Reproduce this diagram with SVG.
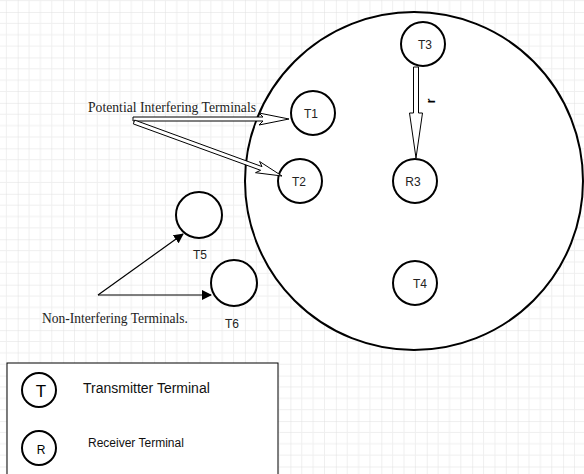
<svg xmlns="http://www.w3.org/2000/svg" width="584" height="474" viewBox="0 0 584 474">
<defs>
<pattern id="grid" patternUnits="userSpaceOnUse" x="17.7" y="12" width="45.45" height="45.45">
<path d="M11.36 0V45.45M22.73 0V45.45M34.09 0V45.45M0 11.36H45.45M0 22.73H45.45M0 34.09H45.45" stroke="#efefef" stroke-width="1" fill="none"/>
<path d="M0 0V45.45M0 0H45.45" stroke="#e0e0e0" stroke-width="1" fill="none"/>
</pattern>
<marker id="tri" viewBox="0 0 10 10" refX="9" refY="5" markerWidth="10" markerHeight="10" markerUnits="userSpaceOnUse" orient="auto">
<path d="M0 0L10 5L0 10Z" fill="#000"/>
</marker>
<style>
.node{fill:#fff;stroke:#000;stroke-width:2}
.lbl{font-family:"Liberation Sans",Arial,sans-serif;font-size:12px;fill:#222;text-anchor:middle;dominant-baseline:central}
.serif{font-family:"Liberation Serif","Times New Roman",serif;font-size:14px;fill:#222}
.flex{fill:#fff;stroke:#000;stroke-width:1}
.line{stroke:#000;stroke-width:1.2;fill:none;marker-end:url(#tri)}
</style>
</defs>
<rect width="584" height="474" fill="#fff"/>
<rect width="584" height="474" fill="url(#grid)"/>

<g id="cell">
<circle cx="414" cy="181" r="169" fill="#fff" stroke="#000" stroke-width="2"/>
</g>

<g id="T3"><circle class="node" cx="423" cy="44" r="22"/><text class="lbl" x="425" y="45">T3</text></g>
<g id="T1"><circle class="node" cx="313" cy="113" r="22"/><text class="lbl" x="311" y="114">T1</text></g>
<g id="T2"><circle class="node" cx="300" cy="181" r="22"/><text class="lbl" x="299" y="182">T2</text></g>
<g id="R3"><circle class="node" cx="415" cy="181" r="22"/><text class="lbl" x="413" y="182">R3</text></g>
<g id="T4"><circle class="node" cx="415" cy="283" r="22"/><text class="lbl" x="420" y="284">T4</text></g>
<g id="T5"><circle class="node" cx="199" cy="215" r="23"/><text class="lbl" x="200" y="255">T5</text></g>
<g id="T6"><circle class="node" cx="234" cy="283" r="23"/><text class="lbl" x="232" y="324">T6</text></g>

<g id="connectors">
<polygon class="flex" points="133,121 263,121 259,125 289,119 259,113 263,117 133,117"/>
<polygon class="flex" points="133.3,123.9 260.6,170.3 255.5,172.7 282,176 259.6,161.5 262,166.6 134.7,120.1"/>
<polygon class="flex" points="413.5,67 413.5,113 409.5,113 416,158 422.5,113 418.5,113 418.5,67"/>
<text x="431" y="101" font-family="Liberation Sans,Arial,sans-serif" font-size="12" font-weight="bold" fill="#000" text-anchor="middle" dominant-baseline="central" transform="rotate(-90 431 101)">r</text>
<line class="line" x1="98" y1="295" x2="183" y2="234"/>
<line class="line" x1="98" y1="295" x2="211" y2="295"/>
</g>

<g id="label-potential"><text class="serif" x="88" y="112" textLength="168" lengthAdjust="spacingAndGlyphs">Potential Interfering Terminals</text></g>
<g id="label-noninterfering"><text class="serif" x="42" y="323" textLength="146" lengthAdjust="spacingAndGlyphs">Non-Interfering Terminals.</text></g>

<g id="legend">
<rect x="7" y="363" width="271" height="130" fill="#fff" stroke="#000" stroke-width="1"/>
<circle cx="39" cy="390" r="17" fill="#fff" stroke="#000" stroke-width="2"/>
<text x="41" y="391" font-family="Liberation Sans,Arial,sans-serif" font-size="17" fill="#000" text-anchor="middle" dominant-baseline="central">T</text>
<text x="83" y="393" font-family="Liberation Sans,Arial,sans-serif" font-size="14" fill="#111">Transmitter Terminal</text>
<circle cx="39" cy="448" r="17" fill="#fff" stroke="#000" stroke-width="2"/>
<text x="41" y="450" font-family="Liberation Sans,Arial,sans-serif" font-size="12" fill="#000" text-anchor="middle" dominant-baseline="central">R</text>
<text x="88" y="447" font-family="Liberation Sans,Arial,sans-serif" font-size="12" fill="#111">Receiver Terminal</text>
</g>
</svg>
